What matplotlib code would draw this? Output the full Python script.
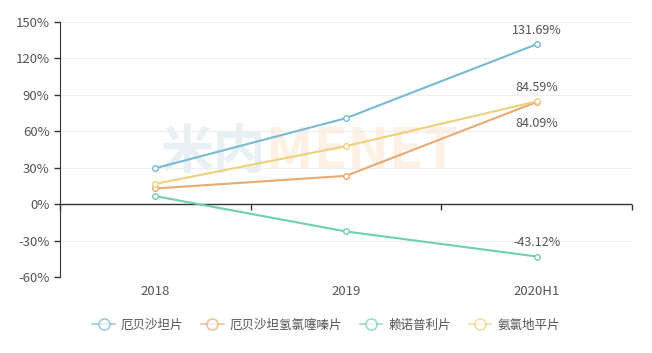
import matplotlib.pyplot as plt
from matplotlib.lines import Line2D
import numpy as np

plt.rcParams['font.family'] = ['Noto Sans CJK SC', 'DejaVu Sans']

years = ['2018', '2019', '2020H1']
names = ['厄贝沙坦片', '厄贝沙坦氢氯噻嗪片', '赖诺普利片', '氨氯地平片']
irbesartan = [29.6, 70.8, 131.69]
irbe_hctz = [12.9, 23.3, 84.09]
lisinopril = [6.6, -22.5, -43.12]
amlodipine = [16.7, 47.8, 84.59]
colors = ['#78b9d3', '#e8a974', '#72cfae', '#edd07e']

fig = plt.figure(figsize=(6.52, 3.53), dpi=100)
ax = fig.add_axes([60/652, 1-277/353, 572/652, 255/353])

# faint watermark
ax.text(0.36, 0.49, '米内', transform=ax.transAxes, ha='right', va='center',
        fontsize=38, fontweight='bold', color='#e8f0f3', zorder=0)
ax.text(0.36, 0.49, 'MENET', transform=ax.transAxes, ha='left', va='center',
        fontsize=40, fontweight='bold', color='#fdf0e5', zorder=0)

xs = np.arange(len(years)) + 0.5
series = [irbesartan, irbe_hctz, lisinopril, amlodipine]
for vals, c in zip(series, colors):
    ax.plot(xs, vals, color=c, lw=1.5, marker='o', ms=4, mfc='white', mec=c, mew=1, zorder=3)

lab_kw = dict(ha='center', fontsize=9, color='#555555')
ax.text(xs[2], irbesartan[2] + 6, '%.2f%%' % irbesartan[2], va='bottom', **lab_kw)
ax.text(xs[2], amlodipine[2] + 6, '%.2f%%' % amlodipine[2], va='bottom', **lab_kw)
ax.text(xs[2], irbe_hctz[2] - 12, '%.2f%%' % irbe_hctz[2], va='top', **lab_kw)
ax.text(xs[2], lisinopril[2] + 6, '%.2f%%' % lisinopril[2], va='bottom', **lab_kw)

ax.set_xlim(0, 3)
ax.set_ylim(-60, 150)
ax.set_yticks(np.arange(-60, 151, 30))
ax.set_yticklabels(['%d%%' % v for v in range(-60, 151, 30)])
ax.set_xticks(xs)
ax.set_xticklabels(years)
ax.tick_params(axis='x', length=0, pad=6, labelsize=9.5, labelcolor='#555555')
ax.tick_params(axis='y', length=4, width=1, color='#333333', labelsize=9.5, labelcolor='#555555')
ax.grid(axis='y', color='#eeeeee', lw=0.8, zorder=0)
for s in ['top', 'right', 'bottom']:
    ax.spines[s].set_visible(False)
ax.spines['left'].set_color('#333333')
ax.axhline(0, color='#333333', lw=1, zorder=2.5)

zero_ax = ax.secondary_xaxis(60/210)
zero_ax.set_xticks([0, 1, 2, 3])
zero_ax.set_xticklabels([])
zero_ax.tick_params(length=4, width=1, color='#333333')
zero_ax.spines['bottom'].set_visible(False)

handles = [Line2D([], [], color=c, lw=1.2, alpha=0.7, marker='o', ms=8, mfc='white', mec=c, mew=1.2)
           for c in colors]
fig.legend(handles, names, loc='center', bbox_to_anchor=(0.5, 1-325/353), ncol=4, frameon=False,
           fontsize=9, labelcolor='#555555', handlelength=1.8, columnspacing=1.4, handletextpad=0.5)

fig.savefig('out.png', dpi=100)
